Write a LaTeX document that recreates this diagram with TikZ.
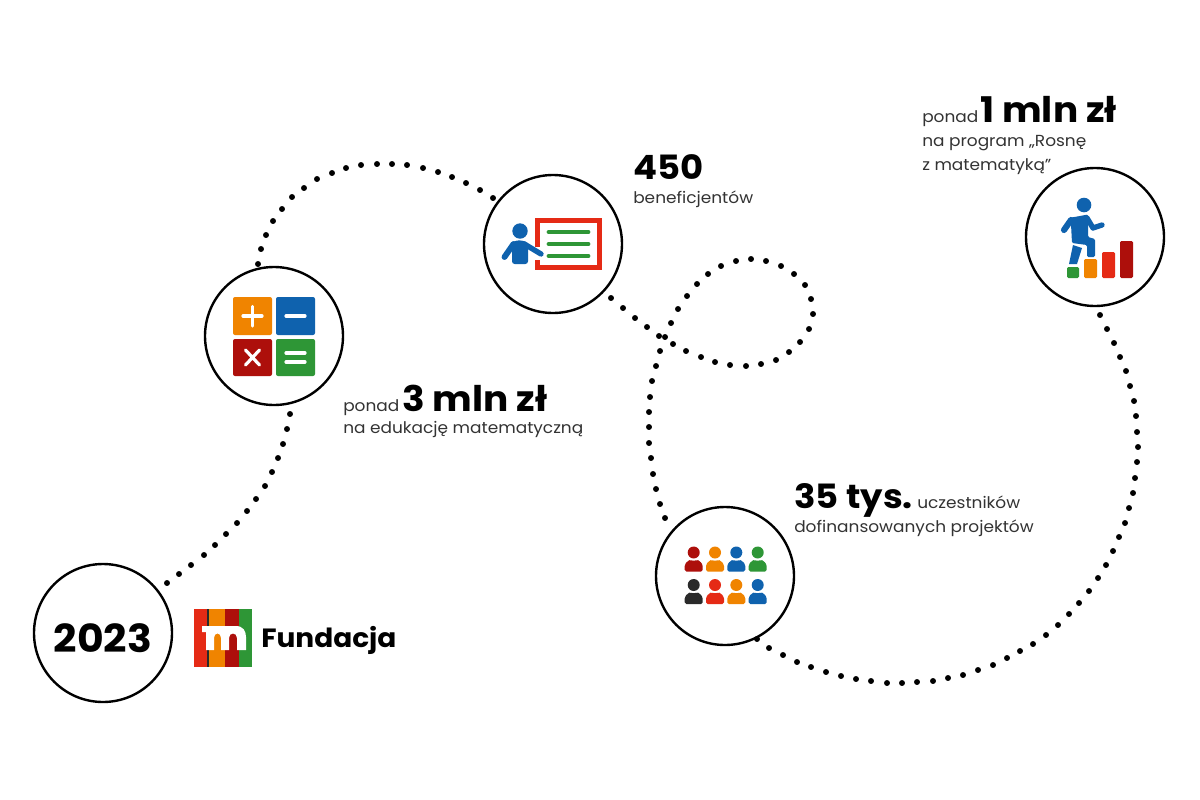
\documentclass[tikz,border=0pt]{standalone}
\usepackage{fontspec}
\setmainfont[FakeStretch=1.06]{Poppins}
\definecolor{mblue}{HTML}{0F62AE}
\definecolor{morange}{HTML}{F08400}
\definecolor{mred}{HTML}{E52A15}
\definecolor{mdark}{HTML}{AD0F0B}
\definecolor{mgreen}{HTML}{2E9636}
\definecolor{mblack}{HTML}{2A2A2A}
\definecolor{mtext}{HTML}{333333}
\tikzset{
  ring/.style={circle,draw=black,line width=1.8pt,fill=white,minimum size=103.5pt,inner sep=0pt},
  dotline/.style={black,fill=black},
  big/.style={font=\fontsize{26.5}{28}\selectfont\bfseries,text=black,inner sep=0pt,anchor=base west},
  bignum/.style={font=\fontsize{25.1}{28}\selectfont\bfseries,text=black,inner sep=0pt,anchor=base west},
  small/.style={font=\fontsize{12}{15}\selectfont,text=mtext,inner sep=0pt,anchor=base west},
  tile/.style={rounded corners=1.5pt},
  sym/.style={draw=white,line width=2.4pt,line cap=round}
}
\newcommand{\person}[3]{%
  \fill[#3] (#1,#2) circle (6);
  \fill[#3,rounded corners=1.2] (#1-9,#2+19) -- (#1-9,#2+12) -- (#1-6,#2+8.5) -- (#1-3,#2+7) -- (#1,#2+9) -- (#1+3,#2+7) -- (#1+6,#2+8.5) -- (#1+9,#2+12) -- (#1+9,#2+19) -- cycle;
}
\begin{document}
\begin{tikzpicture}[x=0.75pt,y=-0.75pt]
\useasboundingbox (0,0) rectangle (1200,800);
\fill[white] (0,0) rectangle (1200,800);
\coordinate (c1) at (167,583);
\coordinate (c2) at (290,414);
\coordinate (c3) at (258,264);
\coordinate (c4) at (493,198);
\coordinate (c5) at (611,298);
\coordinate (c6) at (665,518);
\coordinate (c7) at (757,639);
\coordinate (c8) at (1100,315);
\node[ring] (year) at (103,633) {};
\node[ring] (calc) at (274,336) {};
\node[ring] (teach) at (553,244) {};
\node[ring] (people) at (725,576) {};
\node[ring] (climb) at (1095,237) {};
\tikzset{every mark/.append style={draw=none,fill=black}}
\draw[dotline] plot[only marks,mark=*,mark size=2pt] coordinates {(c1) (179,574) (191,565) (204,555) (215,545) (226,534) (237,523) (247,511) (256,499) (265,486) (272,472) (278,458) (283,444) (287,429) (c2)};
\draw[dotline] plot[only marks,mark=*,mark size=2pt] coordinates {(c3) (261,249) (266,235) (273,221) (282,209) (292,197) (304,188) (317,179) (332,173) (346,168) (361,165) (377,164) (392,164) (407,165) (423,168) (438,172) (452,177) (466,183) (480,190) (c4)};
\draw[dotline] plot[only marks,mark=*,mark size=2pt] coordinates {(c5) (623,308) (635,318) (647,327) (659,336) (673,344) (686,351) (701,357) (715,362) (730,365) (746,366) (761,364) (776,360) (789,352) (800,342) (809,329) (813,314) (811,299) (805,285) (794,274) (781,266) (766,261) (751,259) (736,261) (721,266) (708,274) (697,284) (687,296) (678,309) (671,323) (665,337) (660,351) (656,366) (652,381) (650,397) (649,412) (649,427) (649,443) (651,458) (653,474) (656,489) (660,504) (c6)};
\draw[dotline] plot[only marks,mark=*,mark size=2pt] coordinates {(c7) (769,648) (783,655) (797,662) (811,667) (826,672) (841,676) (856,679) (871,681) (887,683) (902,683) (917,682) (933,681) (948,678) (963,675) (978,670) (993,665) (1007,658) (1020,651) (1033,644) (1046,635) (1058,625) (1069,614) (1079,603) (1089,591) (1098,578) (1106,565) (1113,551) (1119,537) (1125,523) (1129,508) (1133,493) (1135,478) (1137,462) (1138,447) (1137,432) (1136,416) (1134,401) (1130,386) (1126,371) (1120,357) (1114,343) (1107,329) (c8)};
% year
\node[font=\fontsize{29}{32}\selectfont\bfseries,text=black,inner sep=0] (yt) at (103,638) {2023};
% logo
\fill[mred] (194,609) rectangle (207,667);
\fill[morange] (207,609) rectangle (225,667);
\fill[mblack] (207,609) rectangle (208.7,667);
\fill[mdark] (225,609) rectangle (239,667);
\fill[mgreen] (239,609) rectangle (252,667);
\fill[white] (202,626) -- (236,626) .. controls (243,626) and (246,631) .. (246,637) -- (246,650) -- (237,650) -- (237,638) .. controls (237,632) and (229,632) .. (229,638) -- (229,650) -- (221,650) -- (221,638) .. controls (221,632) and (214,632) .. (214,638) -- (214,650) -- (206,650) -- (206,632) -- (202,632) -- cycle;
\node[font=\fontsize{19.8}{22}\selectfont\bfseries,text=black,inner sep=0,anchor=base west] (fund) at (261,647) {Fundacja};
% calc icon
\fill[morange,tile] (233,297) rectangle (272,335);
\fill[mblue,tile] (276,297) rectangle (315,335);
\fill[mdark,tile] (233,339) rectangle (272,376);
\fill[mgreen,tile] (276,339) rectangle (315,376);
\draw[sym] (243,316) -- (262,316) (252.5,306.5) -- (252.5,326);
\draw[sym] (286,316) -- (305,316);
\draw[sym] (245.5,350) -- (259.5,365) (259.5,350) -- (245.5,365);
\draw[sym] (286,353) -- (305,353) (286,362) -- (305,362);
% teacher icon
\draw[mred,line width=3.5pt] (537.5,220.5) rectangle (599.5,267.5);
\draw[mgreen,line width=3.7pt,line cap=round] (549,232) -- (588,232) (549,244) -- (588,244) (549,256) -- (588,256);
\fill[white] (530,247) rectangle (540,260);
\fill[mblue] (520,231) circle (7.7);
\fill[mblue,rounded corners=2] (512,264) -- (512,242) -- (519,240) -- (528,242) -- (528,264) -- cycle;
\draw[mblue,line width=4.4pt,line cap=round,line join=round] (504.5,257) -- (513.5,244);
\draw[mblue,line width=4pt,line cap=round,line join=round] (526,245) -- (541,254);
% climb icon
\fill[mblue] (1084,205) circle (7.3);
\fill[mblue,rounded corners=1] (1069,218) -- (1088,214.5) -- (1088,237) -- (1095,239) -- (1095,257) -- (1087,257) -- (1087,245) -- (1072,243) -- (1071,224) -- cycle;
\draw[mblue,line width=4.6pt,line cap=round,line join=round] (1071,220) -- (1064,230);
\draw[mblue,line width=4pt,line cap=round,line join=round] (1087,218) -- (1093,228) -- (1102,225);
\fill[mblue] (1073,245) -- (1082,248) -- (1077,264) -- (1069,264) -- cycle;
\fill[mgreen,rounded corners=1] (1067,267) rectangle (1079,278);
\fill[morange,rounded corners=1] (1084,259) rectangle (1097,278);
\fill[mred,rounded corners=1] (1102,252) rectangle (1115,278);
\fill[mdark,rounded corners=1] (1120,241) rectangle (1133,278);
% people icon
\person{693.7}{552.5}{mdark}
\person{715}{552.5}{morange}
\person{736.3}{552.5}{mblue}
\person{757.7}{552.5}{mgreen}
\person{693.7}{585}{mblack}
\person{715}{585}{mred}
\person{736.3}{585}{morange}
\person{757.7}{585}{mblue}
% texts
\node[small] (t1a) at (343,411) {ponad};
\node[big] (t1b) at (402,411) {3 mln zł};
\node[small] (t1c) at (343,433) {na edukację matematyczną};
\node[bignum] (t2a) at (633,179) {450};
\node[small] (t2b) at (633,203) {beneficjentów};
\node[small] (t3a) at (922,122) {ponad};
\node[big] (t3b) at (980,122) {1 mln zł};
\node[small] (t3c) at (922,146) {na program „Rosnę};
\node[small] (t3d) at (922,170) {z matematyką”};
\node[bignum] (t4a) at (794,508) {35 tys.};
\node[small] (t4b) at (917,508) {uczestników};
\node[small] (t4c) at (794,532) {dofinansowanych projektów};
\end{tikzpicture}
\end{document}
